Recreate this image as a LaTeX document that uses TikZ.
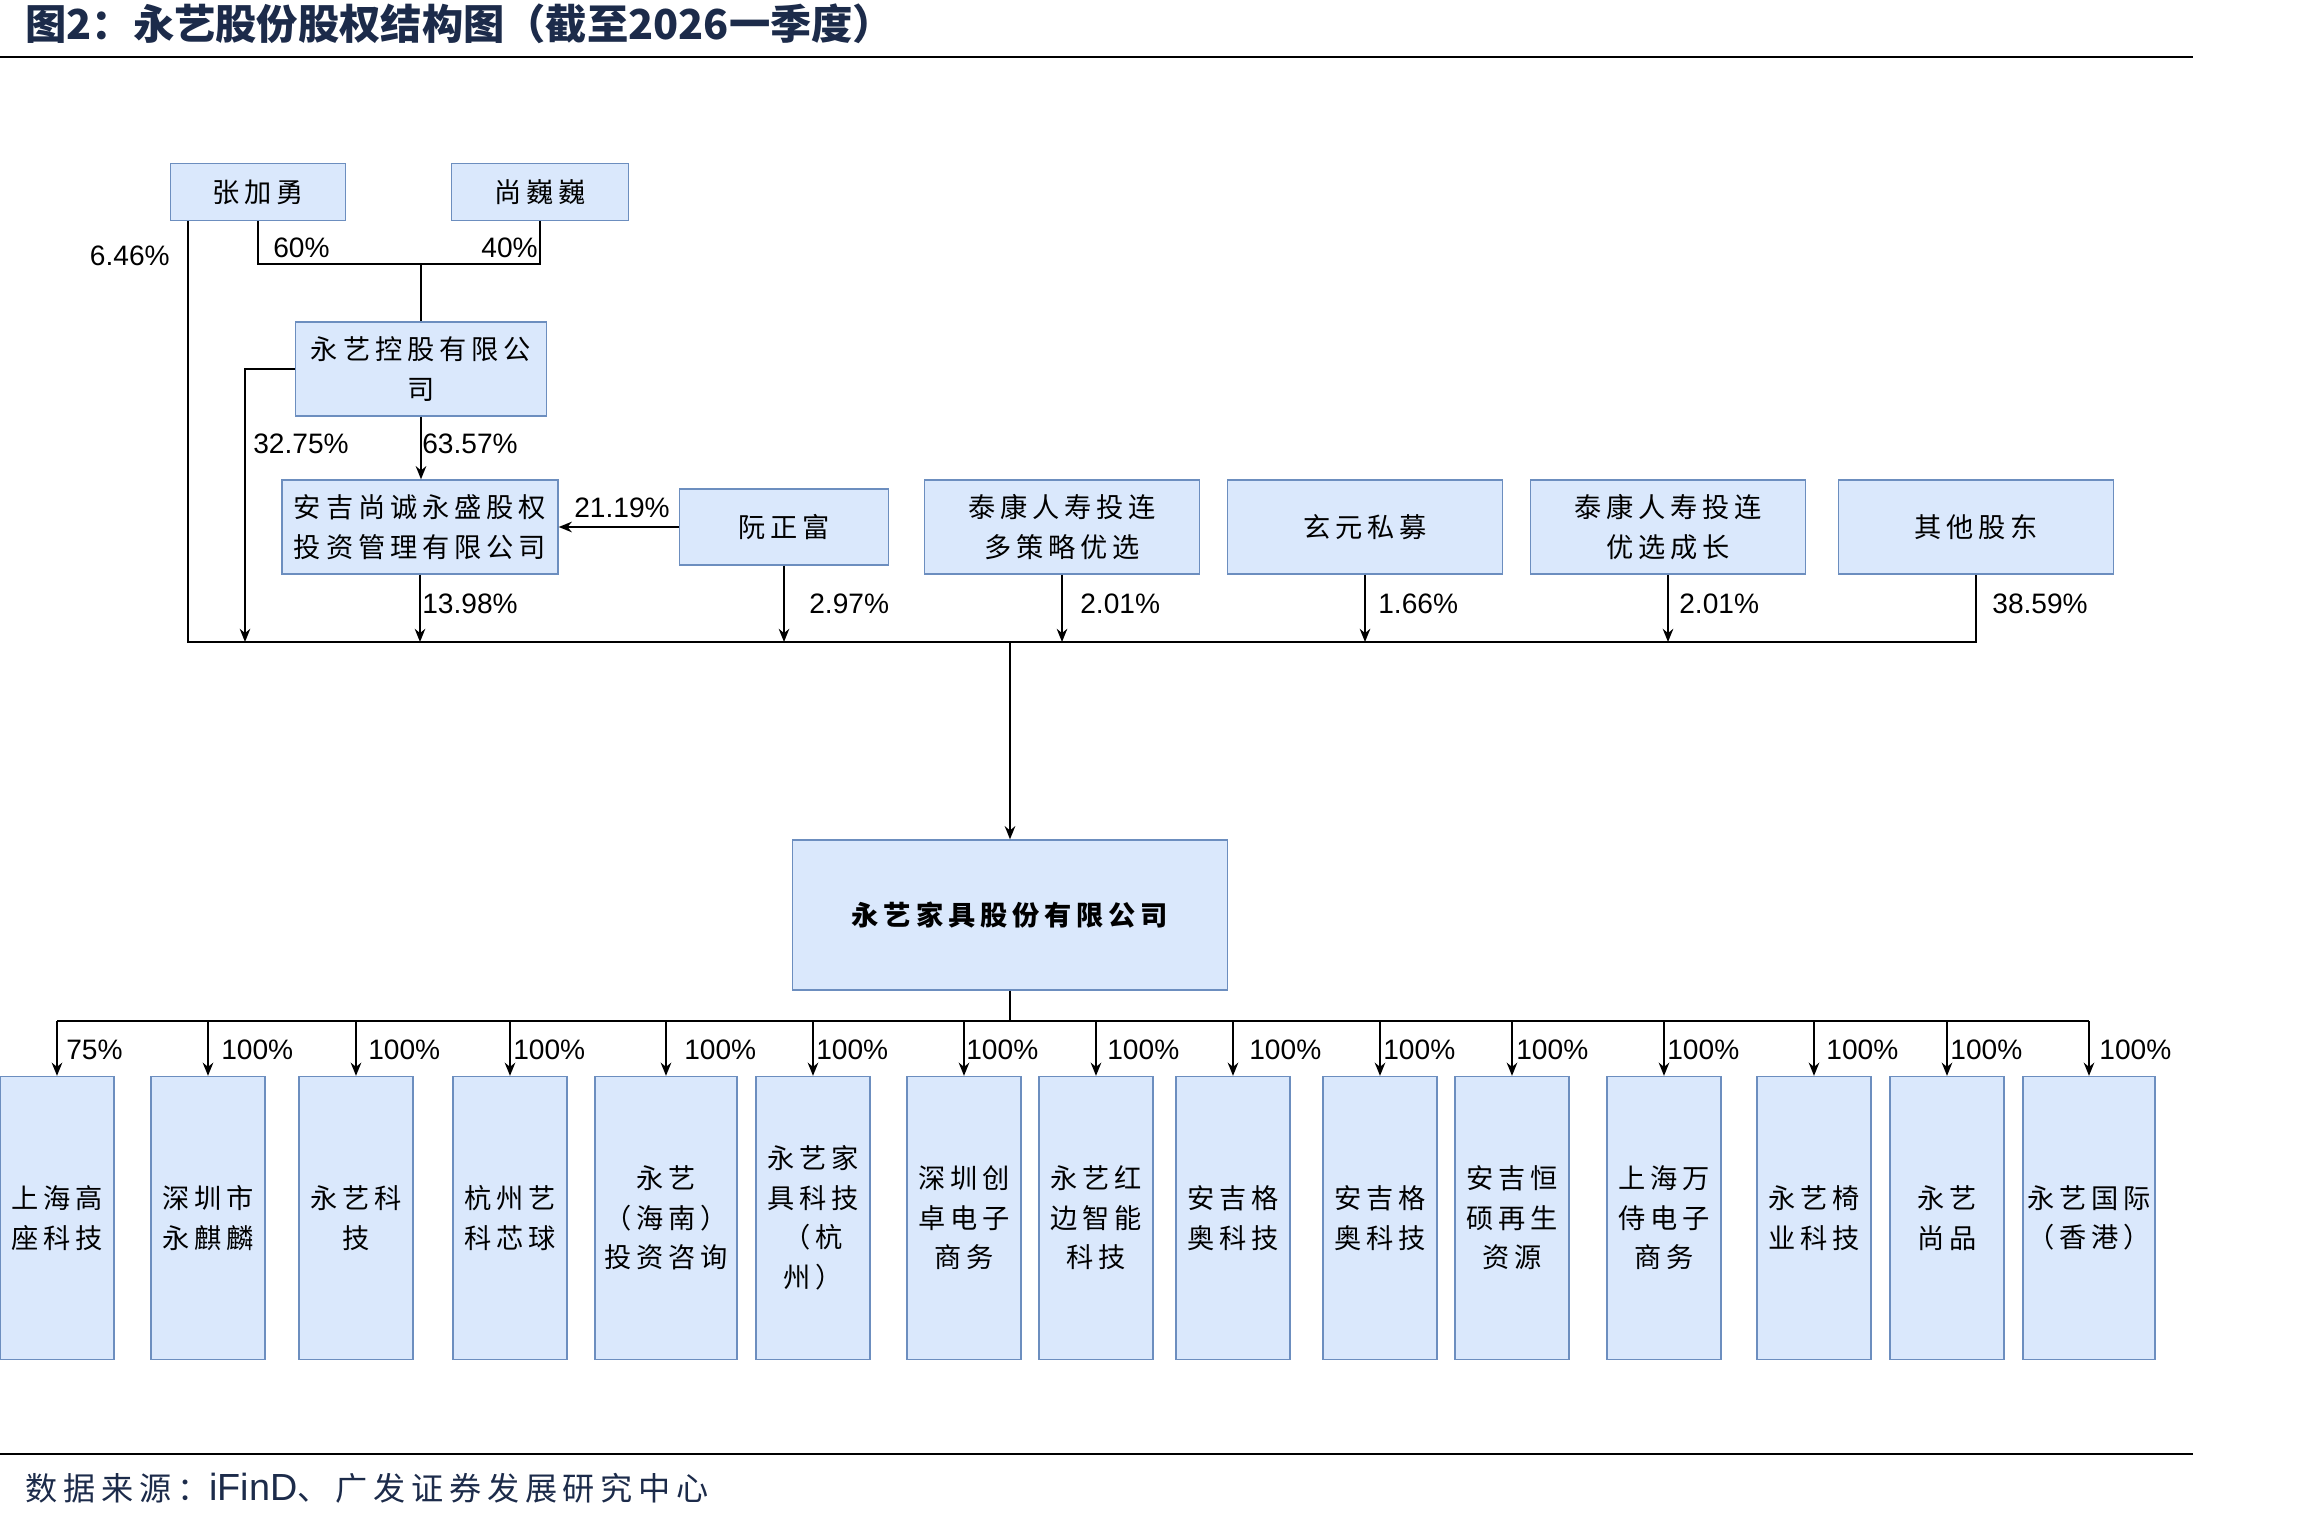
\documentclass[tikz,border=0pt]{standalone}
\usepackage{fontspec}
\setmainfont{Liberation Sans}
\newfontfamily\cjk[LetterSpace=18]{Noto Sans CJK SC}
\newfontfamily\cjktitle{Noto Sans CJK SC}
\usetikzlibrary{arrows.meta,positioning,calc}
\definecolor{gfnavy}{HTML}{1C2B4A}
\definecolor{dfill}{HTML}{DAE8FC}
\definecolor{dedge}{HTML}{6C8EBF}
\tikzset{
  corp/.style={draw=dedge,fill=dfill,line width=0.8pt,align=center,inner sep=0pt,font=\cjk\fontsize{15.5}{22.5}\selectfont},
  corpsub/.style={corp,minimum height=5.66cm},
  ln/.style={line width=1.1pt,draw=black},
  arr/.style={ln,-{Stealth[length=7.5pt,width=6pt]}},
  pct/.style={font=\fontsize{16}{16}\selectfont,inner sep=0pt,anchor=west},
}
\begin{document}
\begin{tikzpicture}[x=0.02cm,y=-0.02cm]
  \useasboundingbox (0,0) rectangle (2303,1523);
  \fill[white] (0,0) rectangle (2303,1523);
  % title, rules, source
  \node[anchor=west,inner sep=0pt,text=gfnavy,font=\cjktitle\bfseries\fontsize{23.5}{23.5}\selectfont] (title) at (25,24) {图2：永艺股份股权结构图（截至2026一季度）};
  \draw[line width=1.3pt] (0,57) -- (2193,57);
  \draw[line width=1.3pt] (0,1454) -- (2193,1454);
  \node[anchor=west,inner sep=0pt,text=gfnavy,font=\cjk\fontsize{18.3}{18.3}\selectfont] (src) at (25,1488) {数据来源：{\rmfamily\fontsize{21.5}{21.5}\selectfont iFinD}、广发证券发展研究中心};

  % shareholders
  \node[corp,minimum width=3.5cm,minimum height=1.14cm] (zhang) at (258,192) {张加勇};
  \node[corp,minimum width=3.54cm,minimum height=1.14cm] (shang) at (540,192) {尚巍巍};
  \node[corp,minimum width=5.02cm,minimum height=1.88cm] (hold) at (421,369) {永艺控股有限公\\司};
  \node[corp,minimum width=5.52cm,minimum height=1.88cm] (anji) at (420,527) {安吉尚诚永盛股权\\投资管理有限公司};
  \node[corp,minimum width=4.18cm,minimum height=1.52cm] (ruan) at (784,527) {阮正富};
  \node[corp,minimum width=5.5cm,minimum height=1.88cm] (tk1) at (1062,527) {泰康人寿投连\\多策略优选};
  \node[corp,minimum width=5.5cm,minimum height=1.88cm] (xuan) at (1365,527) {玄元私募};
  \node[corp,minimum width=5.5cm,minimum height=1.88cm] (tk2) at (1668,527) {泰康人寿投连\\优选成长};
  \node[corp,minimum width=5.5cm,minimum height=1.88cm] (other) at (1976,527) {其他股东};
  \node[corp,minimum width=8.7cm,minimum height=3cm,font=\cjk\bfseries\fontsize{15.5}{22.5}\selectfont] (yy) at (1010,915) {永艺家具股份有限公司};

  \coordinate (jn) at (421,264);
  \coordinate (busA) at (188,642);
  \coordinate (busB) at (245,642);
  \coordinate (bus) at (1010,642);
  \coordinate (bus2) at (1010,1021);

  % upper holdings
  \draw[ln] (zhang.south) |- (jn) -| (shang.south);
  \draw[ln] (jn) -- (hold.north);
  \draw[ln] (zhang.south west -| busA) -- (busA) -- (busA -| other.south) -- (other.south);
  \draw[arr] (hold.west) -| (busB);
  \draw[arr] (hold.south) -- (hold.south |- anji.north);
  \draw[arr] (ruan.west) -- (ruan.west -| anji.east);
  \draw[arr] (anji.south) -- (anji.south |- bus);
  \draw[arr] (ruan.south) -- (ruan.south |- bus);
  \draw[arr] (tk1.south) -- (tk1.south |- bus);
  \draw[arr] (xuan.south) -- (xuan.south |- bus);
  \draw[arr] (tk2.south) -- (tk2.south |- bus);
  \draw[arr] (bus) -- (yy.north);

  \node[pct,anchor=east] at (170,256) {6.46\%};
  \node[pct] at (273,248) {60\%};
  \node[pct,anchor=east] at (538,248) {40\%};
  \node[pct] at (253,444) {32.75\%};
  \node[pct] at (422,444) {63.57\%};
  \node[pct] at (574,508) {21.19\%};
  \node[pct] at (422,604) {13.98\%};
  \node[pct] at (809,604) {2.97\%};
  \node[pct] at (1080,604) {2.01\%};
  \node[pct] at (1378,604) {1.66\%};
  \node[pct] at (1679,604) {2.01\%};
  \node[pct] at (1992,604) {38.59\%};

  % subsidiaries
  \draw[ln] (yy.south) -- (bus2);
  \foreach \i/\cx/\bw/\lx/\pc/\txt in {
    1/57/2.28cm/9/75\%/{上海高\\座科技},
    2/208/2.28cm/13/100\%/{深圳市\\永麒麟},
    3/356/2.28cm/12/100\%/{永艺科\\技},
    4/510/2.28cm/3/100\%/{杭州艺\\科芯球},
    5/666/2.84cm/18/100\%/{永艺\\（海南）\\投资咨询},
    6/813/2.28cm/3/100\%/{永艺家\\具科技\\（杭\\州）},
    7/964/2.28cm/2/100\%/{深圳创\\卓电子\\商务},
    8/1096/2.28cm/11/100\%/{永艺红\\边智能\\科技},
    9/1233/2.28cm/16/100\%/{安吉格\\奥科技},
    10/1380/2.28cm/3/100\%/{安吉格\\奥科技},
    11/1512/2.28cm/4/100\%/{安吉恒\\硕再生\\资源},
    12/1664/2.28cm/3/100\%/{上海万\\侍电子\\商务},
    13/1814/2.28cm/12/100\%/{永艺椅\\业科技},
    14/1947/2.28cm/3/100\%/{永艺\\尚品},
    15/2089/2.64cm/10/100\%/{永艺国际\\（香港）}}{
    \node[corpsub,minimum width=\bw] (c\i) at (\cx,1218) {\txt};
    \draw[arr] (c\i.north |- bus2) -- (c\i.north);
    \node[pct] at (\cx+\lx,1050) {\pc};
  }
  \draw[ln] (c1.north |- bus2) -- (c15.north |- bus2);
\end{tikzpicture}
\end{document}
